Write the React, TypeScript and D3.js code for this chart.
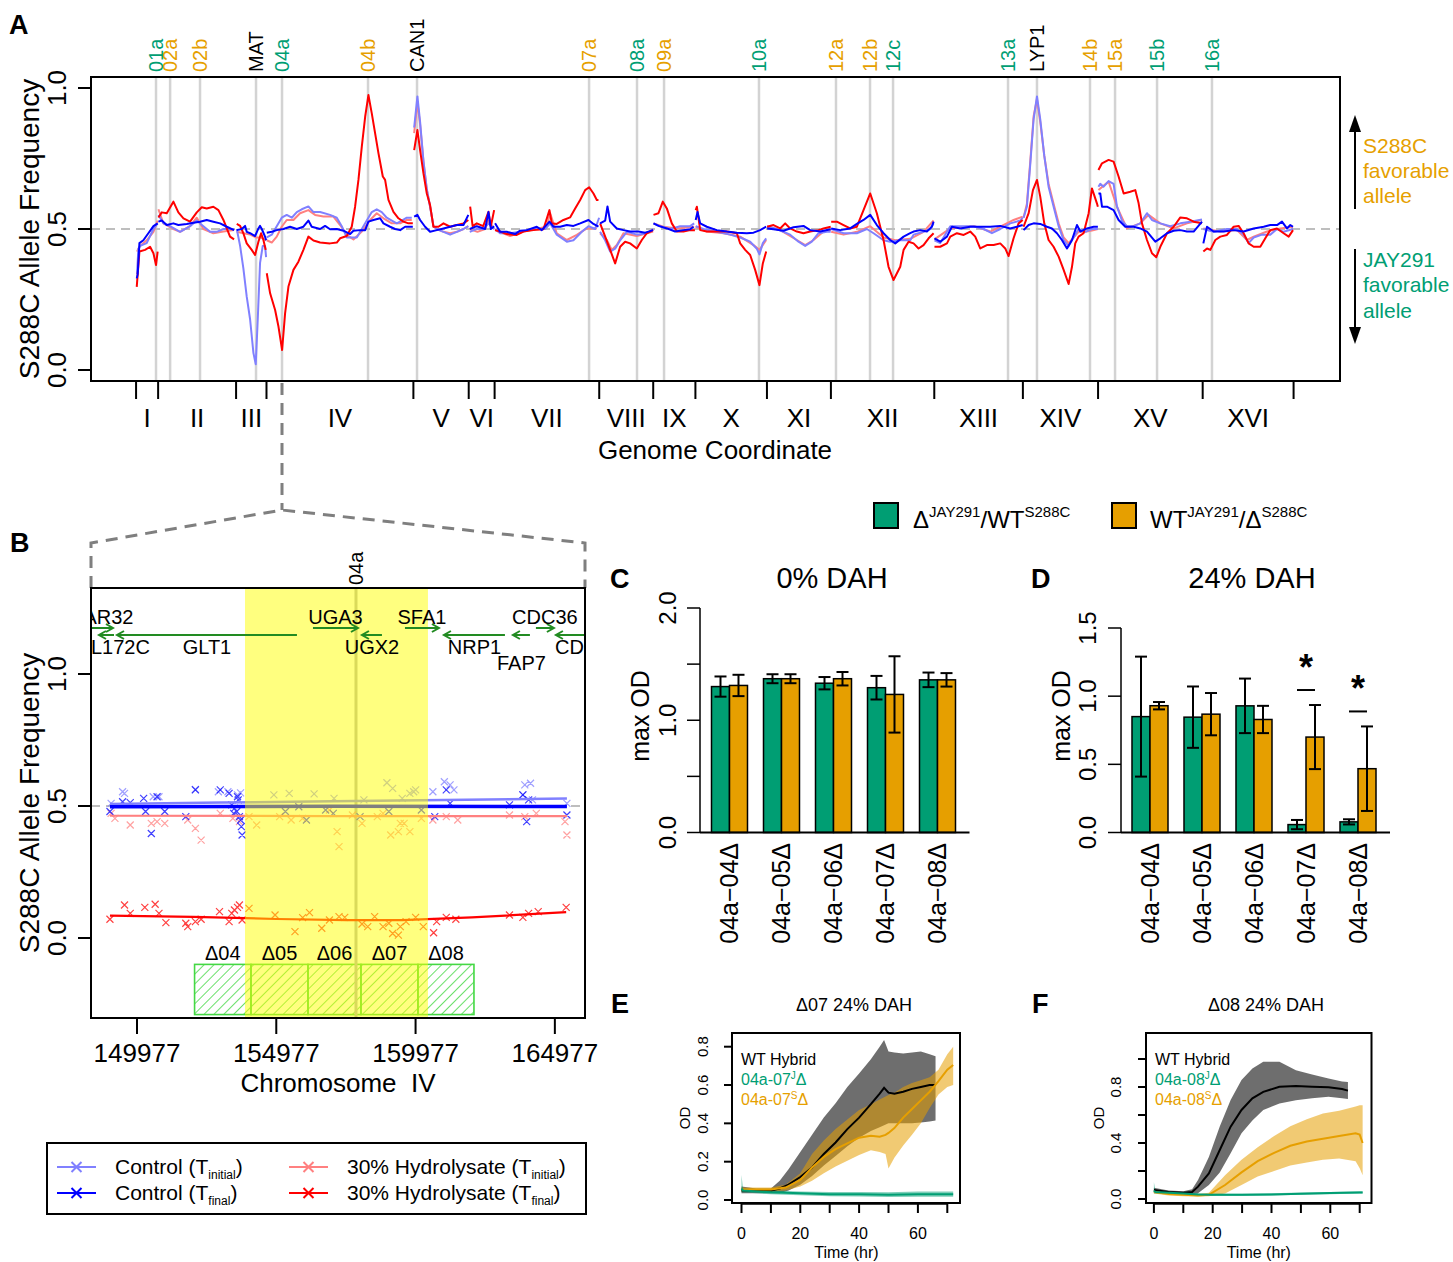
import React from "react";
import * as d3 from "d3";

const FONT = "'Liberation Sans', Arial, Helvetica, sans-serif";
const GREEN = "#009E73";
const ORANGE = "#E69F00";
const LBLUE = "#8080FF";
const BLUE = "#0000FF";
const LRED = "#FF8080";
const RED = "#FF0000";

// ---------------- Panel A data ----------------
const chromNames = ["I","II","III","IV","V","VI","VII","VIII","IX","X","XI","XII","XIII","XIV","XV","XVI"];
const chromBounds = [0,230,1043,1360,2892,3469,3739,4830,5393,5833,6579,7246,8324,9248,10032,11123,12071];
const markerNames = ["01a","02a","02b","MAT","04a","04b","CAN1","07a","08a","09a","10a","12a","12b","12c","13a","LYP1","14b","15a","15b","16a"];
const markerPos = [208,355,667,1251,1522,2419,2930,4724,5224,5506,6496,7299,7654,7894,9093,9395,9948,10209,10647,11220];
const markerFavors = ["J","S","S","-","J","S","-","S","J","S","J","S","S","J","J","-","S","S","J","J"];

const ctrlInitial = [
 [[10,0.34],[24,0.43],[42,0.44],[111,0.45],[181,0.50],[225,0.52]],
 [[233,0.55],[285,0.52],[354,0.51],[459,0.49],[563,0.51],[633,0.53],[702,0.51],[772,0.49],[841,0.49],[911,0.50],[1022,0.50]],
 [[1050,0.50],[1085,0.44],[1119,0.36],[1154,0.26],[1189,0.18],[1224,0.06],[1248,0.02],[1269,0.18],[1293,0.38],[1321,0.44],[1345,0.44],[1356,0.40]],
 [[1363,0.47],[1415,0.48],[1467,0.51],[1519,0.54],[1571,0.55],[1624,0.54],[1676,0.56],[1728,0.57],[1797,0.58],[1850,0.56],[1919,0.56],[2023,0.55],[2093,0.54],[2145,0.51],[2197,0.47],[2249,0.47],[2302,0.47],[2354,0.50],[2406,0.53],[2458,0.56],[2510,0.57],[2562,0.56],[2614,0.54],[2667,0.53],[2719,0.52],[2771,0.53],[2823,0.54],[2875,0.54]],
 [[2900,0.86],[2934,0.97],[2962,0.88],[2997,0.74],[3032,0.64],[3066,0.58],[3101,0.51],[3136,0.50],[3206,0.49],[3275,0.48],[3345,0.49],[3414,0.50],[3465,0.51]],
 [[3480,0.49],[3550,0.50],[3620,0.50],[3675,0.52],[3734,0.50]],
 [[3744,0.50],[3796,0.485],[3901,0.485],[4005,0.49],[4144,0.50],[4266,0.50],[4318,0.52],[4387,0.48],[4492,0.455],[4561,0.46],[4648,0.49],[4718,0.51],[4787,0.50],[4829,0.54]],
 [[4839,0.49],[4892,0.46],[4944,0.42],[4996,0.43],[5048,0.46],[5118,0.49],[5222,0.48],[5326,0.485],[5392,0.50]],
 [[5396,0.52],[5465,0.51],[5570,0.50],[5674,0.51],[5778,0.51],[5820,0.52]],
 [[5836,0.51],[5917,0.50],[6056,0.49],[6195,0.48],[6300,0.47],[6404,0.455],[6474,0.43],[6501,0.41],[6536,0.45],[6571,0.467]],
 [[6581,0.51],[6682,0.50],[6821,0.48],[6908,0.455],[6978,0.44],[7047,0.455],[7117,0.485],[7204,0.49],[7244,0.49]],
 [[7249,0.50],[7378,0.485],[7517,0.485],[7621,0.50],[7691,0.485],[7795,0.46],[7864,0.455],[7969,0.46],[8073,0.46],[8108,0.48],[8212,0.49],[8282,0.50],[8317,0.52]],
 [[8326,0.46],[8386,0.45],[8491,0.51],[8595,0.51],[8734,0.51],[8838,0.50],[8925,0.485],[9012,0.50],[9116,0.52],[9221,0.53],[9246,0.54]],
 [[9255,0.54],[9290,0.58],[9325,0.73],[9360,0.89],[9395,0.97],[9429,0.89],[9471,0.76],[9516,0.65],[9568,0.58],[9621,0.51],[9673,0.46],[9725,0.44],[9777,0.47],[9829,0.50],[9899,0.49],[9968,0.50],[10030,0.50]],
 [[10036,0.65],[10055,0.66],[10090,0.65],[10142,0.67],[10194,0.66],[10229,0.58],[10281,0.53],[10333,0.51],[10403,0.51],[10472,0.52],[10542,0.556],[10594,0.532],[10681,0.52],[10785,0.51],[10890,0.52],[10994,0.526],[11116,0.534]],
 [[11130,0.50],[11237,0.49],[11376,0.50],[11481,0.50],[11550,0.48],[11602,0.45],[11655,0.47],[11742,0.48],[11828,0.48],[11898,0.50],[11967,0.49],[12065,0.50]],
];

const ctrlFinal = [
 [[7,0.325],[17,0.34],[35,0.45],[76,0.46],[128,0.485],[181,0.51],[225,0.52]],
 [[233,0.526],[268,0.53],[320,0.514],[389,0.52],[441,0.514],[528,0.518],[598,0.522],[667,0.526],[737,0.532],[806,0.526],[876,0.52],[946,0.508],[1022,0.496]],
 [[1050,0.496],[1102,0.50],[1137,0.511],[1154,0.49],[1189,0.485],[1241,0.475],[1276,0.502],[1293,0.511],[1311,0.50],[1345,0.473],[1356,0.46]],
 [[1363,0.487],[1415,0.49],[1467,0.496],[1537,0.50],[1606,0.508],[1676,0.50],[1745,0.508],[1797,0.53],[1832,0.508],[1919,0.50],[1971,0.511],[2023,0.499],[2093,0.50],[2163,0.494],[2232,0.482],[2267,0.494],[2336,0.496],[2389,0.496],[2423,0.526],[2475,0.532],[2545,0.538],[2580,0.52],[2649,0.508],[2701,0.50],[2754,0.496],[2806,0.508],[2858,0.508],[2886,0.508]],
 [[2900,0.544],[2934,0.55],[2962,0.532],[3014,0.508],[3066,0.49],[3136,0.496],[3206,0.502],[3275,0.508],[3345,0.514],[3414,0.514],[3465,0.55]],
 [[3480,0.50],[3553,0.51],[3640,0.50],[3675,0.56],[3700,0.50],[3734,0.51]],
 [[3744,0.52],[3796,0.49],[3866,0.49],[3953,0.482],[4005,0.494],[4074,0.496],[4179,0.508],[4231,0.496],[4311,0.526],[4353,0.508],[4422,0.508],[4492,0.514],[4561,0.511],[4631,0.52],[4718,0.532],[4770,0.518],[4822,0.508]],
 [[4839,0.52],[4892,0.53],[4916,0.58],[4944,0.526],[5013,0.502],[5083,0.496],[5152,0.491],[5239,0.491],[5309,0.487],[5392,0.496]],
 [[5396,0.52],[5448,0.511],[5535,0.502],[5622,0.491],[5709,0.496],[5778,0.499],[5813,0.508]],
 [[5836,0.532],[5855,0.56],[5883,0.52],[5952,0.508],[6056,0.496],[6161,0.491],[6265,0.487],[6369,0.485],[6439,0.487],[6508,0.496],[6571,0.508]],
 [[6581,0.502],[6647,0.499],[6752,0.494],[6856,0.506],[6960,0.511],[7030,0.496],[7134,0.491],[7244,0.499]],
 [[7249,0.502],[7343,0.496],[7447,0.502],[7517,0.518],[7586,0.532],[7656,0.55],[7725,0.514],[7795,0.485],[7864,0.461],[7917,0.449],[8004,0.473],[8073,0.485],[8108,0.491],[8178,0.496],[8247,0.491],[8299,0.508],[8317,0.526]],
 [[8326,0.467],[8386,0.455],[8456,0.473],[8508,0.508],[8595,0.502],[8699,0.508],[8803,0.508],[8908,0.508],[9012,0.511],[9116,0.502],[9186,0.508],[9246,0.514]],
 [[9255,0.496],[9308,0.514],[9360,0.52],[9429,0.518],[9499,0.508],[9551,0.502],[9603,0.485],[9655,0.461],[9708,0.431],[9760,0.461],[9812,0.514],[9847,0.491],[9916,0.502],[9986,0.508],[10030,0.508]],
 [[10036,0.626],[10055,0.626],[10073,0.579],[10125,0.579],[10194,0.567],[10246,0.532],[10316,0.508],[10403,0.508],[10472,0.502],[10542,0.491],[10629,0.455],[10681,0.467],[10751,0.485],[10820,0.494],[10890,0.496],[10959,0.491],[11029,0.491],[11116,0.526]],
 [[11130,0.449],[11168,0.508],[11237,0.491],[11342,0.491],[11446,0.496],[11550,0.491],[11655,0.502],[11759,0.508],[11828,0.514],[11898,0.514],[11950,0.526],[12002,0.502],[12037,0.514],[12065,0.508]],
];

const hydroInitial = [
 [[10,0.42],[24,0.43],[42,0.44],[111,0.46],[181,0.49],[225,0.53]],
 [[233,0.57],[285,0.52],[389,0.50],[459,0.49],[563,0.51],[633,0.54],[702,0.50],[806,0.485],[911,0.491],[1022,0.496]],
 [[1050,0.49],[1120,0.485],[1190,0.48],[1250,0.47],[1300,0.47],[1356,0.46]],
 [[1363,0.46],[1415,0.452],[1467,0.473],[1519,0.508],[1571,0.532],[1641,0.532],[1710,0.556],[1797,0.567],[1867,0.55],[1954,0.544],[2058,0.544],[2128,0.514],[2197,0.479],[2267,0.463],[2354,0.491],[2441,0.532],[2510,0.556],[2580,0.538],[2667,0.52],[2754,0.52],[2823,0.532],[2875,0.532]],
 [[2900,0.84],[2934,0.95],[2962,0.87],[2997,0.74],[3032,0.64],[3066,0.58],[3101,0.51],[3136,0.50],[3206,0.49],[3275,0.485],[3345,0.49],[3414,0.50],[3465,0.51]],
 [[3480,0.50],[3560,0.49],[3640,0.50],[3675,0.53],[3734,0.50]],
 [[3744,0.496],[3901,0.475],[4040,0.491],[4283,0.508],[4318,0.556],[4387,0.485],[4492,0.461],[4596,0.479],[4700,0.502],[4805,0.502]],
 [[4839,0.485],[4909,0.461],[4961,0.426],[5013,0.443],[5083,0.485],[5222,0.475],[5392,0.491]],
 [[5396,0.52],[5500,0.508],[5639,0.502],[5820,0.508]],
 [[5836,0.508],[5952,0.491],[6126,0.485],[6300,0.473],[6439,0.443],[6501,0.426],[6571,0.461]],
 [[6581,0.508],[6717,0.496],[6891,0.461],[6978,0.443],[7065,0.461],[7169,0.491],[7244,0.496]],
 [[7249,0.49],[7378,0.48],[7517,0.49],[7656,0.51],[7795,0.47],[7917,0.46],[8073,0.465],[8212,0.49],[8317,0.53]],
 [[8326,0.463],[8491,0.502],[8734,0.511],[8908,0.491],[9012,0.508],[9151,0.532],[9246,0.544]],
 [[9255,0.54],[9290,0.59],[9325,0.74],[9360,0.90],[9395,0.96],[9429,0.88],[9471,0.76],[9516,0.66],[9568,0.59],[9621,0.52],[9673,0.47],[9725,0.45],[9777,0.47],[9829,0.49],[9899,0.49],[9968,0.495],[10030,0.50]],
 [[10036,0.638],[10142,0.668],[10229,0.579],[10333,0.502],[10472,0.52],[10559,0.55],[10681,0.52],[10820,0.502],[10959,0.52],[11116,0.532]],
 [[11130,0.502],[11307,0.491],[11481,0.496],[11585,0.461],[11655,0.473],[11794,0.491],[11933,0.502],[12065,0.508]],
];

const hydroFinal = [
 [[7,0.295],[35,0.42],[94,0.426],[146,0.437],[181,0.414],[208,0.372],[225,0.42]],
 [[233,0.541],[268,0.559],[320,0.556],[389,0.597],[441,0.559],[494,0.538],[563,0.526],[633,0.559],[685,0.577],[737,0.573],[806,0.579],[859,0.567],[911,0.532],[980,0.473],[1022,0.463]],
 [[1050,0.518],[1085,0.511],[1119,0.485],[1154,0.449],[1206,0.426],[1241,0.408],[1276,0.455],[1304,0.485],[1328,0.461],[1352,0.426]],
 [[1363,0.343],[1398,0.272],[1450,0.213],[1485,0.154],[1523,0.071],[1554,0.201],[1589,0.296],[1641,0.355],[1693,0.384],[1745,0.426],[1797,0.473],[1850,0.459],[1919,0.452],[2023,0.449],[2093,0.452],[2128,0.467],[2197,0.475],[2249,0.508],[2284,0.579],[2319,0.674],[2354,0.792],[2389,0.898],[2423,0.975],[2458,0.91],[2493,0.839],[2528,0.768],[2573,0.686],[2597,0.674],[2632,0.603],[2684,0.561],[2736,0.538],[2788,0.526],[2840,0.52],[2886,0.52]],
 [[2900,0.78],[2934,0.851],[2962,0.78],[2997,0.697],[3032,0.626],[3066,0.585],[3101,0.508],[3153,0.508],[3206,0.52],[3275,0.508],[3345,0.514],[3414,0.52],[3465,0.532]],
 [[3484,0.579],[3510,0.51],[3553,0.52],[3620,0.51],[3675,0.561],[3700,0.51],[3734,0.567]],
 [[3744,0.496],[3796,0.491],[3866,0.482],[3970,0.479],[4040,0.491],[4144,0.496],[4248,0.499],[4311,0.567],[4335,0.52],[4387,0.518],[4457,0.532],[4526,0.541],[4579,0.573],[4631,0.603],[4683,0.638],[4725,0.648],[4770,0.626],[4805,0.603],[4822,0.603]],
 [[4839,0.52],[4892,0.473],[4944,0.426],[4996,0.378],[5048,0.437],[5100,0.455],[5152,0.449],[5222,0.431],[5274,0.461],[5326,0.485],[5392,0.496]],
 [[5396,0.55],[5448,0.556],[5493,0.597],[5535,0.573],[5587,0.52],[5639,0.491],[5709,0.491],[5778,0.496],[5828,0.496]],
 [[5836,0.567],[5848,0.579],[5883,0.496],[5952,0.491],[6056,0.491],[6161,0.491],[6265,0.485],[6300,0.449],[6352,0.426],[6404,0.408],[6456,0.355],[6501,0.301],[6536,0.378],[6571,0.42]],
 [[6581,0.508],[6647,0.514],[6717,0.502],[6769,0.52],[6821,0.502],[6891,0.491],[6960,0.485],[7030,0.491],[7117,0.496],[7169,0.502],[7244,0.508]],
 [[7249,0.526],[7308,0.526],[7378,0.514],[7447,0.502],[7517,0.508],[7586,0.567],[7656,0.626],[7725,0.556],[7795,0.461],[7847,0.366],[7899,0.319],[7969,0.366],[8004,0.426],[8056,0.455],[8108,0.449],[8160,0.431],[8212,0.443],[8265,0.467],[8317,0.485]],
 [[8326,0.437],[8386,0.437],[8456,0.449],[8491,0.473],[8560,0.485],[8630,0.479],[8699,0.491],[8751,0.473],[8803,0.431],[8873,0.443],[8943,0.443],[9012,0.449],[9064,0.431],[9099,0.404],[9151,0.467],[9203,0.52],[9246,0.532]],
 [[9255,0.508],[9308,0.556],[9353,0.638],[9395,0.674],[9429,0.615],[9471,0.52],[9516,0.461],[9568,0.437],[9621,0.402],[9673,0.355],[9725,0.305],[9760,0.366],[9794,0.449],[9829,0.473],[9881,0.485],[9934,0.556],[9968,0.644],[10020,0.591],[10030,0.579]],
 [[10036,0.709],[10073,0.733],[10142,0.745],[10194,0.739],[10246,0.686],[10299,0.626],[10368,0.632],[10420,0.638],[10455,0.591],[10490,0.52],[10542,0.461],[10594,0.414],[10639,0.40],[10681,0.437],[10751,0.485],[10820,0.508],[10890,0.541],[10959,0.538],[11029,0.526],[11116,0.52]],
 [[11130,0.42],[11168,0.431],[11203,0.426],[11255,0.461],[11307,0.473],[11376,0.479],[11446,0.508],[11498,0.511],[11550,0.485],[11602,0.449],[11655,0.437],[11724,0.437],[11776,0.467],[11828,0.496],[11898,0.502],[11967,0.485],[12020,0.473],[12065,0.496]],
];

// ---------------- Panel B data ----------------
const bTicks = [149977, 154977, 159977, 164977];
const bRegion = [153854, 160422];
const b04aPos = 157838;
const delNames = ["Δ04","Δ05","Δ06","Δ07","Δ08"];
const delStart = [152044,154069,156115,158017,160063];
const delEnd = [154069,156115,158017,160063,162073];
const geneNames = ["PAR32","YDL172C","GLT1","UGA3","UGX2","SFA1","NRP1","FAP7","CDC36","CDC39"];
const geneStart = [148362,148613,149259,156294,158052,159596,160995,163472,164297,165015];
const geneEnd = [149115,149152,155719,157909,158770,160816,163185,164082,164943,167312];
const geneStrand = ["+","-","-","+","-","+","-","-","+","-"];
const geneLabelRow = [0,1,1,0,1,0,1,2,0,1];

const bCtrlFinalPts = [[149006,0.479],[149460,0.516],[149735,0.513],[150216,0.529],[150285,0.479],[150491,0.396],[150698,0.535],[150973,0.479],[151729,0.460],[152073,0.561],[152966,0.561],[153283,0.548],[153379,0.504],[153448,0.472],[153475,0.491],[153557,0.479],[153585,0.535],[153613,0.523],[153654,0.460],[153695,0.447],[153723,0.422],[153750,0.390],[155304,0.479],[155785,0.497],[156060,0.447],[156748,0.485],[157022,0.472],[157985,0.460],[159016,0.479],[160185,0.485],[160666,0.460],[161079,0.561],[161216,0.510],[163348,0.504],[163829,0.542],[163966,0.441],[164035,0.523],[165410,0.466]];
const bCtrlInitialPts = [[149048,0.510],[149460,0.554],[149529,0.548],[150560,0.535],[150766,0.535],[152073,0.563],[152898,0.554],[153241,0.554],[153585,0.542],[153695,0.550],[154891,0.542],[155441,0.548],[156335,0.546],[157050,0.529],[158123,0.523],[158948,0.588],[159154,0.567],[159498,0.529],[159773,0.548],[159910,0.554],[159979,0.561],[160598,0.554],[161010,0.592],[161216,0.580],[161354,0.561],[163829,0.542],[163898,0.580],[164104,0.586],[164173,0.523],[165410,0.510]];
const bHydroInitialPts = [[149048,0.472],[149185,0.453],[149735,0.428],[150491,0.434],[150698,0.441],[150973,0.434],[151798,0.447],[152073,0.415],[152279,0.371],[152966,0.472],[153420,0.453],[153654,0.441],[153998,0.460],[154273,0.428],[155098,0.460],[155510,0.447],[155923,0.453],[156885,0.485],[157160,0.403],[157229,0.346],[157710,0.466],[158054,0.434],[158604,0.460],[158810,0.472],[159085,0.390],[159360,0.403],[159429,0.434],[159566,0.434],[159773,0.403],[160185,0.453],[160598,0.447],[161079,0.460],[161491,0.447],[163348,0.466],[163898,0.460],[164310,0.472],[165341,0.441],[165410,0.390]];
const bHydroFinalPts = [[149006,0.071],[149529,0.125],[149735,0.093],[150258,0.116],[150629,0.128],[150766,0.093],[151014,0.058],[151729,0.056],[151798,0.043],[152073,0.062],[152279,0.071],[152939,0.100],[153283,0.062],[153379,0.093],[153475,0.106],[153585,0.116],[153654,0.125],[153750,0.068],[153998,0.112],[154933,0.087],[155648,0.024],[155923,0.077],[156170,0.096],[156610,0.037],[156885,0.068],[157229,0.081],[157435,0.078],[158054,0.053],[158260,0.043],[158508,0.081],[158810,0.043],[159016,0.056],[159154,0.017],[159360,0.011],[159429,0.043],[159635,0.062],[159979,0.078],[160254,0.043],[160625,0.020],[160735,0.062],[161079,0.078],[161423,0.071],[163348,0.087],[163829,0.078],[164035,0.093],[164379,0.100],[165383,0.116]];
const bCtrlFinalFit = [[149006,0.497],[157000,0.499],[165410,0.498]];
const bCtrlInitialFit = [[149006,0.508],[153000,0.513],[157000,0.518],[161000,0.523],[165410,0.528]];
const bHydroInitialFit = [[149006,0.463],[157000,0.462],[165410,0.462]];
const bHydroFinalFit = [[149006,0.085],[152000,0.080],[155000,0.072],[157500,0.068],[159500,0.068],[162000,0.078],[165383,0.098]];

// ---------------- Panels C/D data ----------------
const barCats = ["04a−04Δ","04a−05Δ","04a−06Δ","04a−07Δ","04a−08Δ"];
const c0Green = [1.30,1.37,1.33,1.29,1.36];
const c0GreenErr = [0.09,0.04,0.055,0.105,0.065];
const c0Orange = [1.31,1.37,1.37,1.23,1.36];
const c0OrangeErr = [0.095,0.04,0.06,0.34,0.06];
const d24Green = [0.85,0.846,0.929,0.058,0.078];
const d24GreenErr = [0.44,0.225,0.2,0.034,0.019];
const d24Orange = [0.93,0.868,0.829,0.70,0.468];
const d24OrangeErr = [0.027,0.155,0.1,0.235,0.31];
const d24Signif = [false,false,false,true,true];

// ---------------- Panels E/F data ----------------
const eWtT = [0,5,10,13,16,20,24,28,32,36,40,44,47,48.5,50,52,55,58,61,64,66];
const eWtMean = [0.05,0.05,0.05,0.06,0.08,0.12,0.17,0.24,0.30,0.37,0.43,0.50,0.555,0.585,0.56,0.555,0.565,0.58,0.59,0.60,0.60];
const eWtHi = [0.07,0.06,0.06,0.10,0.16,0.25,0.34,0.43,0.505,0.59,0.66,0.735,0.80,0.835,0.775,0.77,0.765,0.77,0.775,0.76,0.75];
const eWtLo = [0.035,0.035,0.035,0.035,0.05,0.08,0.125,0.18,0.23,0.28,0.325,0.36,0.38,0.39,0.40,0.40,0.40,0.40,0.405,0.41,0.415];
const eST = [0,5,10,15,20,24,28,32,36,40,44,47,49,50,52,55,58,61,64,67,70,72];
const eSMean = [0.055,0.055,0.055,0.065,0.105,0.17,0.225,0.265,0.295,0.325,0.335,0.33,0.34,0.35,0.375,0.43,0.475,0.52,0.565,0.62,0.68,0.705];
const eSHi = [0.065,0.065,0.065,0.08,0.14,0.24,0.31,0.37,0.42,0.47,0.50,0.525,0.54,0.548,0.56,0.59,0.61,0.625,0.64,0.68,0.76,0.80];
const eSLo = [0.045,0.045,0.045,0.05,0.07,0.10,0.14,0.175,0.205,0.235,0.26,0.25,0.24,0.165,0.22,0.285,0.34,0.40,0.48,0.55,0.59,0.60];
const eJT = [0,0.5,5,10,20,30,40,50,60,70,72];
const eJMean = [0.06,0.05,0.045,0.04,0.035,0.03,0.03,0.028,0.03,0.03,0.03];
const eJHi = [0.13,0.06,0.055,0.05,0.045,0.042,0.042,0.04,0.045,0.045,0.045];
const eJLo = [0.04,0.04,0.035,0.03,0.025,0.02,0.018,0.016,0.017,0.017,0.017];

const fWtT = [0,5,10,13,15,18.7,22.4,26.1,29.8,33.5,37.2,42.7,48.3,53.8,59.4,64,66];
const fWtMean = [0.065,0.05,0.045,0.05,0.088,0.183,0.35,0.517,0.636,0.719,0.765,0.802,0.807,0.802,0.798,0.785,0.774];
const fWtHi = [0.08,0.06,0.055,0.07,0.136,0.30,0.517,0.707,0.85,0.933,0.98,0.98,0.92,0.89,0.86,0.84,0.835];
const fWtLo = [0.045,0.04,0.035,0.035,0.041,0.10,0.19,0.326,0.47,0.56,0.636,0.683,0.705,0.72,0.73,0.72,0.715];
const fST = [0,5,10,15,18.7,24.2,29.8,35.3,40.9,46.4,52,57.5,63,68.6,70,71];
const fSMean = [0.05,0.035,0.03,0.025,0.03,0.10,0.19,0.27,0.33,0.38,0.41,0.43,0.45,0.47,0.46,0.40];
const fSHi = [0.06,0.045,0.04,0.035,0.045,0.17,0.28,0.37,0.45,0.52,0.57,0.61,0.63,0.66,0.67,0.67];
const fSLo = [0.04,0.025,0.02,0.018,0.02,0.04,0.10,0.16,0.20,0.24,0.26,0.28,0.29,0.27,0.22,0.17];
const fJT = [0,0.5,5,10,15,20,30,40,50,60,70,71];
const fJMean = [0.06,0.05,0.045,0.04,0.033,0.03,0.03,0.033,0.038,0.042,0.047,0.047];
const fJHi = [0.12,0.06,0.053,0.048,0.041,0.038,0.038,0.041,0.046,0.05,0.055,0.055];
const fJLo = [0.04,0.04,0.037,0.032,0.025,0.022,0.022,0.025,0.03,0.034,0.039,0.039];

// ---------------- helpers ----------------
function RotText({ x, y, size, anchor = "middle", fill = "#000", children, weight }: any) {
  return (
    <text transform={`translate(${x},${y}) rotate(-90)`} textAnchor={anchor} fontSize={size} fill={fill} dy="0.35em" fontWeight={weight}>
      {children}
    </text>
  );
}

const crossPath = (x: number, y: number, s = 3.5) => `M${x - s},${y - s}L${x + s},${y + s}M${x - s},${y + s}L${x + s},${y - s}`;

function PanelA() {
  const xA = d3.scaleLinear().domain([-470, 12555]).range([91, 1340]);
  const yA = d3.scaleLinear().domain([0, 1]).range([370, 88]);
  const line = d3.line<number[]>().x(d => xA(d[0])).y(d => yA(d[1]));
  const favColor = (f: string) => (f === "J" ? GREEN : f === "S" ? ORANGE : "#000");
  const seriesA = [
    { data: hydroInitial, color: LRED },
    { data: ctrlInitial, color: LBLUE },
    { data: hydroFinal, color: RED },
    { data: ctrlFinal, color: BLUE },
  ];
  const centers = chromNames.map((_, i) => (chromBounds[i] + chromBounds[i + 1]) / 2);
  return (
    <g>
      <text x={9} y={34} fontSize={27} fontWeight="bold">A</text>
      {markerPos.map((p, i) => (
        <line key={"ml" + i} x1={xA(p)} x2={xA(p)} y1={77} y2={381} stroke="#d3d3d3" strokeWidth={2.5} />
      ))}
      <line x1={91} x2={1340} y1={yA(0.5)} y2={yA(0.5)} stroke="#bebebe" strokeWidth={2} strokeDasharray="9,6" />
      {seriesA.map((s, si) =>
        s.data.map((seg, j) => (
          <path key={si + "-" + j} d={line(seg as any) || ""} fill="none" stroke={s.color} strokeWidth={2} strokeLinejoin="round" />
        ))
      )}
      <rect x={91} y={77} width={1249} height={304} fill="none" stroke="#000" strokeWidth={2} />
      {markerNames.map((m, i) => (
        <RotText key={"mt" + i} x={xA(markerPos[i])} y={72} size={20} anchor="start" fill={favColor(markerFavors[i])}>{m}</RotText>
      ))}
      {[0, 0.5, 1].map(v => (
        <g key={"ya" + v}>
          <line x1={78} x2={91} y1={yA(v)} y2={yA(v)} stroke="#000" strokeWidth={2} />
          <RotText x={57} y={yA(v)} size={26}>{v.toFixed(1)}</RotText>
        </g>
      ))}
      <RotText x={29} y={229} size={28}>S288C Allele Frequency</RotText>
      {chromBounds.map((b, i) => (
        <line key={"cb" + i} x1={xA(b)} x2={xA(b)} y1={381} y2={399} stroke="#000" strokeWidth={2} />
      ))}
      {chromNames.map((c, i) => (
        <text key={"cn" + i} x={xA(centers[i])} y={427} fontSize={26} textAnchor="middle">{c}</text>
      ))}
      <text x={715} y={459} fontSize={26} textAnchor="middle">Genome Coordinate</text>
      <line x1={1355} y1={209} x2={1355} y2={128} stroke="#000" strokeWidth={2} />
      <path d="M1355,115 L1349,132 L1361,132 Z" fill="#000" />
      <line x1={1355} y1={249} x2={1355} y2={330} stroke="#000" strokeWidth={2} />
      <path d="M1355,344 L1349,327 L1361,327 Z" fill="#000" />
      <g fontSize={21} fill={ORANGE}>
        <text x={1363} y={153}>S288C</text>
        <text x={1363} y={178}>favorable</text>
        <text x={1363} y={203}>allele</text>
      </g>
      <g fontSize={21} fill={GREEN}>
        <text x={1363} y={267}>JAY291</text>
        <text x={1363} y={292}>favorable</text>
        <text x={1363} y={318}>allele</text>
      </g>
    </g>
  );
}

function Connector() {
  return (
    <path d="M282,383 L282,510 M91,588 L91,543 L282,510 L585,543 L585,588" fill="none" stroke="#7f7f7f" strokeWidth={3} strokeDasharray="12,8" />
  );
}

function PanelB() {
  const xB = d3.scaleLinear().domain([148326, 166059]).range([91, 585]);
  const yB = d3.scaleLinear().domain([0, 1]).range([938, 674]);
  const line = d3.line<number[]>().x(d => xB(d[0])).y(d => yB(d[1]));
  const top = 588, bottom = 1018, left = 91, right = 585;
  const pts = [
    { d: bHydroInitialPts, c: LRED },
    { d: bCtrlInitialPts, c: LBLUE },
    { d: bHydroFinalPts, c: RED },
    { d: bCtrlFinalPts, c: BLUE },
  ];
  const delTop = yB(-0.1), delBot = yB(-0.29);
  const arrowY = (s: string) => (s === "+" ? 628 : 635);
  const labelY = [624, 654, 670];
  return (
    <g>
      <defs>
        <clipPath id="clipB"><rect x={left} y={top} width={right - left} height={bottom - top} /></clipPath>
        <pattern id="hatch" patternUnits="userSpaceOnUse" width={7} height={7} patternTransform="rotate(45)">
          <line x1={0} y1={0} x2={0} y2={7} stroke="#44d844" strokeWidth={1.6} />
        </pattern>
      </defs>
      <text x={10} y={552} fontSize={27} fontWeight="bold">B</text>
      {delNames.map((n, i) => (
        <rect key={"del" + i} x={xB(delStart[i])} y={delTop} width={xB(delEnd[i]) - xB(delStart[i])} height={delBot - delTop} fill="url(#hatch)" stroke="#44d844" strokeWidth={1.6} />
      ))}
      <line x1={xB(b04aPos)} x2={xB(b04aPos)} y1={top} y2={bottom} stroke="#b4b4b4" strokeWidth={3} />
      <line x1={left} x2={right} y1={yB(0.5)} y2={yB(0.5)} stroke="#bebebe" strokeWidth={2} strokeDasharray="9,6" />
      {pts.map((s, si) => (
        <path key={"pts" + si} d={s.d.map(p => crossPath(xB(p[0]), yB(p[1]))).join("")} stroke={s.c} strokeWidth={1.2} fill="none" opacity={0.75} />
      ))}
      <path d={line(bHydroInitialFit as any) || ""} stroke={LRED} strokeWidth={2.2} fill="none" />
      <path d={line(bCtrlInitialFit as any) || ""} stroke={LBLUE} strokeWidth={2.5} fill="none" />
      <path d={line(bHydroFinalFit as any) || ""} stroke={RED} strokeWidth={2.2} fill="none" />
      <path d={line(bCtrlFinalFit as any) || ""} stroke={BLUE} strokeWidth={3.5} fill="none" />
      <rect x={xB(bRegion[0])} y={top} width={xB(bRegion[1]) - xB(bRegion[0])} height={bottom - top} fill="#FFFF00" opacity={0.5} />
      <g clipPath="url(#clipB)">
        {geneNames.map((g, i) => {
          const x1 = xB(geneStart[i]), x2 = xB(geneEnd[i]);
          const y = arrowY(geneStrand[i]);
          const tip = geneStrand[i] === "+" ? x2 : x1;
          const dir = geneStrand[i] === "+" ? -1 : 1;
          const hl = 7;
          return (
            <g key={"gene" + i}>
              <line x1={x1} x2={x2} y1={y} y2={y} stroke="#228B22" strokeWidth={2} />
              <path d={`M${tip + dir * hl},${y - 4}L${tip},${y}L${tip + dir * hl},${y + 4}`} stroke="#228B22" strokeWidth={2} fill="none" />
              <text x={(x1 + x2) / 2} y={labelY[geneLabelRow[i]]} fontSize={20} textAnchor="middle">{g}</text>
            </g>
          );
        })}
      </g>
      {delNames.map((n, i) => (
        <text key={"dl" + i} x={(xB(delStart[i]) + xB(delEnd[i])) / 2} y={960} fontSize={20} textAnchor="middle">{n}</text>
      ))}
      <rect x={left} y={top} width={right - left} height={bottom - top} fill="none" stroke="#000" strokeWidth={2} />
      <RotText x={xB(b04aPos)} y={585} size={20} anchor="start">04a</RotText>
      {[0, 0.5, 1].map(v => (
        <g key={"yb" + v}>
          <line x1={78} x2={91} y1={yB(v)} y2={yB(v)} stroke="#000" strokeWidth={2} />
          <RotText x={57} y={yB(v)} size={26}>{v.toFixed(1)}</RotText>
        </g>
      ))}
      <RotText x={29} y={803} size={28}>S288C Allele Frequency</RotText>
      {bTicks.map(t => (
        <g key={"xb" + t}>
          <line x1={xB(t)} x2={xB(t)} y1={bottom} y2={bottom + 16} stroke="#000" strokeWidth={2} />
          <text x={xB(t)} y={1062} fontSize={26} textAnchor="middle">{t}</text>
        </g>
      ))}
      <text x={338} y={1092} fontSize={26} textAnchor="middle" style={{ whiteSpace: "pre" }}>{"Chromosome  IV"}</text>
    </g>
  );
}

function LegendBottom() {
  const rows = [
    { c: LBLUE, t: "Control (T", s: "initial", x: 57, y: 1167, tx: 115 },
    { c: BLUE, t: "Control (T", s: "final", x: 57, y: 1193, tx: 115 },
    { c: LRED, t: "30% Hydrolysate (T", s: "initial", x: 289, y: 1167, tx: 347 },
    { c: RED, t: "30% Hydrolysate (T", s: "final", x: 289, y: 1193, tx: 347 },
  ];
  return (
    <g>
      <rect x={47} y={1143} width={539} height={71} fill="none" stroke="#000" strokeWidth={2} />
      {rows.map((r, i) => (
        <g key={"lg" + i}>
          <line x1={r.x} x2={r.x + 39} y1={r.y} y2={r.y} stroke={r.c} strokeWidth={2} />
          <path d={crossPath(r.x + 19.5, r.y, 5)} stroke={r.c} strokeWidth={2} />
          <text x={r.tx} y={r.y + 7} fontSize={21}>
            {r.t}
            <tspan fontSize={12} dy={5}>{r.s}</tspan>
            <tspan fontSize={21} dy={-5}>)</tspan>
          </text>
        </g>
      ))}
    </g>
  );
}

function LegendTop() {
  return (
    <g>
      <rect x={874} y={503} width={24} height={25} fill={GREEN} stroke="#000" strokeWidth={2} />
      <text x={913} y={528} fontSize={24}>
        Δ<tspan fontSize={15} dy={-11}>JAY291</tspan>
        <tspan fontSize={24} dy={11}>/WT</tspan>
        <tspan fontSize={15} dy={-11}>S288C</tspan>
      </text>
      <rect x={1112} y={503} width={24} height={25} fill={ORANGE} stroke="#000" strokeWidth={2} />
      <text x={1150} y={528} fontSize={24}>
        WT<tspan fontSize={15} dy={-11}>JAY291</tspan>
        <tspan fontSize={24} dy={11}>/Δ</tspan>
        <tspan fontSize={15} dy={-11}>S288C</tspan>
      </text>
    </g>
  );
}

function BarPanel({ letter, letterX, title, titleX, r0, r1, axisX, yDomainMax, yTop, ticks, labeled, green, greenErr, orange, orangeErr, signif, labelX, odX }: any) {
  const y = d3.scaleLinear().domain([0, yDomainMax]).range([832.5, yTop]);
  const band = d3.scaleBand().domain(barCats).range([r0, r1]).paddingInner(0.3077).paddingOuter(0.1538);
  const sub = d3.scaleBand().domain(["g", "o"]).range([0, band.bandwidth()]);
  const bw = sub.bandwidth();
  const bars: any[] = [];
  barCats.forEach((c, i) => {
    [["g", green[i], greenErr[i], GREEN], ["o", orange[i], orangeErr[i], ORANGE]].forEach(([k, v, e, col]: any) => {
      const x = (band(c) as number) + (sub(k) as number);
      bars.push({ key: c + k, x, v, e, col });
    });
  });
  return (
    <g>
      <text x={letterX} y={588} fontSize={27} fontWeight="bold">{letter}</text>
      <text x={titleX} y={588} fontSize={29} textAnchor="middle">{title}</text>
      {bars.map(b => (
        <rect key={b.key} x={b.x} y={y(b.v)} width={bw} height={y(0) - y(b.v)} fill={b.col} stroke="#000" strokeWidth={1.5} />
      ))}
      {bars.map(b => {
        const cx = b.x + bw / 2;
        return (
          <g key={"e" + b.key} stroke="#000" strokeWidth={2}>
            <line x1={cx} x2={cx} y1={y(b.v + b.e)} y2={y(Math.max(b.v - b.e, 0))} />
            <line x1={cx - 6} x2={cx + 6} y1={y(b.v + b.e)} y2={y(b.v + b.e)} />
            <line x1={cx - 6} x2={cx + 6} y1={y(Math.max(b.v - b.e, 0))} y2={y(Math.max(b.v - b.e, 0))} />
          </g>
        );
      })}
      <line x1={axisX} x2={r1 + 6} y1={y(0)} y2={y(0)} stroke="#000" strokeWidth={2} />
      <line x1={axisX} x2={axisX} y1={y(0)} y2={y(yDomainMax)} stroke="#000" strokeWidth={1.5} />
      {ticks.map((t: number) => (
        <line key={"t" + t} x1={axisX - 13} x2={axisX} y1={y(t)} y2={y(t)} stroke="#000" strokeWidth={1.5} />
      ))}
      {labeled.map((t: number) => (
        <RotText key={"l" + t} x={labelX} y={y(t)} size={24}>{t.toFixed(1)}</RotText>
      ))}
      <RotText x={odX} y={716} size={25}>max OD</RotText>
      {barCats.map(c => (
        <RotText key={"c" + c} x={(band(c) as number) + band.bandwidth() / 2} y={843} size={25} anchor="end">{c}</RotText>
      ))}
      {signif &&
        barCats.map((c, i) => {
          if (!signif[i]) return null;
          const cx = (band(c) as number) + band.bandwidth() / 2;
          const top = y(orange[i] + orangeErr[i]);
          return (
            <g key={"s" + c}>
              <line x1={cx - 9} x2={cx + 9} y1={top - 15} y2={top - 15} stroke="#000" strokeWidth={2} />
              <text x={cx} y={top - 25} fontSize={36} fontWeight="bold" textAnchor="middle">*</text>
            </g>
          );
        })}
    </g>
  );
}

function Growth({ letter, letterX, title, titleX, box, xDomainPx, yDomain, yRangePx, yTicks, yLabels, yLabelX, odX, series, legend }: any) {
  const x = d3.scaleLinear().domain([0, 70]).range(xDomainPx);
  const y = d3.scaleLinear().domain(yDomain).range(yRangePx);
  const [bx0, by0, bx1, by1] = box;
  const area = (t: number[], lo: number[], hi: number[]) =>
    d3.area<number>().x((_, i) => x(t[i])).y0((_, i) => y(lo[i])).y1((_, i) => y(hi[i]))(t) || "";
  const line = (t: number[], m: number[]) => d3.line<number>().x((_, i) => x(t[i])).y((_, i) => y(m[i]))(t) || "";
  const xt = [0, 10, 20, 30, 40, 50, 60, 70];
  return (
    <g>
      <text x={letterX} y={1013} fontSize={27} fontWeight="bold">{letter}</text>
      <text x={titleX} y={1011} fontSize={18} textAnchor="middle">{title}</text>
      {series.map((s: any, i: number) => (
        <path key={"a" + i} d={area(s.t, s.lo, s.hi)} fill={s.band} opacity={s.op} />
      ))}
      {series.map((s: any, i: number) => (
        <path key={"l" + i} d={line(s.t, s.m)} fill="none" stroke={s.line} strokeWidth={2} />
      ))}
      <rect x={bx0} y={by0} width={bx1 - bx0} height={by1 - by0} fill="none" stroke="#000" strokeWidth={2} />
      {yTicks.map((v: number) => (
        <line key={"yt" + v} x1={bx0 - 8} x2={bx0} y1={y(v)} y2={y(v)} stroke="#000" strokeWidth={2} />
      ))}
      {yLabels.map((v: number) => (
        <RotText key={"yl" + v} x={yLabelX} y={y(v)} size={15}>{v.toFixed(1)}</RotText>
      ))}
      <RotText x={odX} y={1118} size={15}>OD</RotText>
      <line x1={x(0)} x2={x(70)} y1={by1 + 1} y2={by1 + 1} stroke="#000" strokeWidth={1.5} />
      {xt.map(t => (
        <line key={"xt" + t} x1={x(t)} x2={x(t)} y1={by1} y2={by1 + 10} stroke="#000" strokeWidth={2} />
      ))}
      {[0, 20, 40, 60].map(t => (
        <text key={"xl" + t} x={x(t)} y={1239} fontSize={16} textAnchor="middle">{t}</text>
      ))}
      <text x={(x(0) + x(70)) / 2 + 2} y={1258} fontSize={16} textAnchor="middle">Time (hr)</text>
      {legend.map((l: any, i: number) => (
        <text key={"lg" + i} x={bx0 + 9} y={1065 + i * 20} fontSize={16} fill={l.c}>
          {l.a}
          {l.sup ? <tspan fontSize={10} dy={-6}>{l.sup}</tspan> : null}
          {l.sup ? <tspan fontSize={16} dy={6}>Δ</tspan> : null}
        </text>
      ))}
    </g>
  );
}

export default function App() {
  const eSeries = [
    { t: eWtT, m: eWtMean, lo: eWtLo, hi: eWtHi, band: "#4a4a4a", op: 0.8, line: "#000" },
    { t: eST, m: eSMean, lo: eSLo, hi: eSHi, band: ORANGE, op: 0.55, line: ORANGE },
    { t: eJT, m: eJMean, lo: eJLo, hi: eJHi, band: GREEN, op: 0.5, line: GREEN },
  ];
  const fSeries = [
    { t: fWtT, m: fWtMean, lo: fWtLo, hi: fWtHi, band: "#4a4a4a", op: 0.8, line: "#000" },
    { t: fST, m: fSMean, lo: fSLo, hi: fSHi, band: ORANGE, op: 0.55, line: ORANGE },
    { t: fJT, m: fJMean, lo: fJLo, hi: fJHi, band: GREEN, op: 0.5, line: GREEN },
  ];
  return (
    <div style={{ position: "absolute", left: 0, top: 0 }}>
      <svg width={1453} height={1262} fontFamily={FONT} style={{ display: "block", background: "#fff" }}>
        <rect x={0} y={0} width={1453} height={1262} fill="#fff" />
        <PanelA />
        <Connector />
        <PanelB />
        <LegendBottom />
        <LegendTop />
        <BarPanel letter="C" letterX={610} title="0% DAH" titleX={832} r0={703.5} r1={963.5} axisX={700}
          yDomainMax={2} yTop={608} ticks={[0, 0.5, 1, 1.5, 2]} labeled={[0, 1, 2]}
          green={c0Green} greenErr={c0GreenErr} orange={c0Orange} orangeErr={c0OrangeErr} signif={null} labelX={668} odX={640} />
        <BarPanel letter="D" letterX={1031} title="24% DAH" titleX={1252} r0={1124} r1={1384} axisX={1121}
          yDomainMax={1.5} yTop={628} ticks={[0, 0.5, 1, 1.5]} labeled={[0, 0.5, 1, 1.5]}
          green={d24Green} greenErr={d24GreenErr} orange={d24Orange} orangeErr={d24OrangeErr} signif={d24Signif} labelX={1088} odX={1061} />
        <Growth letter="E" letterX={611} title="Δ07 24% DAH" titleX={854} box={[732, 1033, 960, 1203]}
          xDomainPx={[741.5, 947.3]} yDomain={[0, 0.8]} yRangePx={[1200, 1046.7]}
          yTicks={[0, 0.2, 0.4, 0.6, 0.8]} yLabels={[0, 0.2, 0.4, 0.6, 0.8]} yLabelX={703} odX={685}
          series={eSeries}
          legend={[{ a: "WT Hybrid", c: "#000" }, { a: "04a-07", sup: "J", c: GREEN }, { a: "04a-07", sup: "S", c: ORANGE }]} />
        <Growth letter="F" letterX={1032} title="Δ08 24% DAH" titleX={1266} box={[1146, 1033, 1371.5, 1203]}
          xDomainPx={[1153.9, 1359.7]} yDomain={[0, 1]} yRangePx={[1199, 1059]}
          yTicks={[0, 0.2, 0.4, 0.6, 0.8, 1.0]} yLabels={[0, 0.4, 0.8]} yLabelX={1116} odX={1099}
          series={fSeries}
          legend={[{ a: "WT Hybrid", c: "#000" }, { a: "04a-08", sup: "J", c: GREEN }, { a: "04a-08", sup: "S", c: ORANGE }]} />
      </svg>
    </div>
  );
}
